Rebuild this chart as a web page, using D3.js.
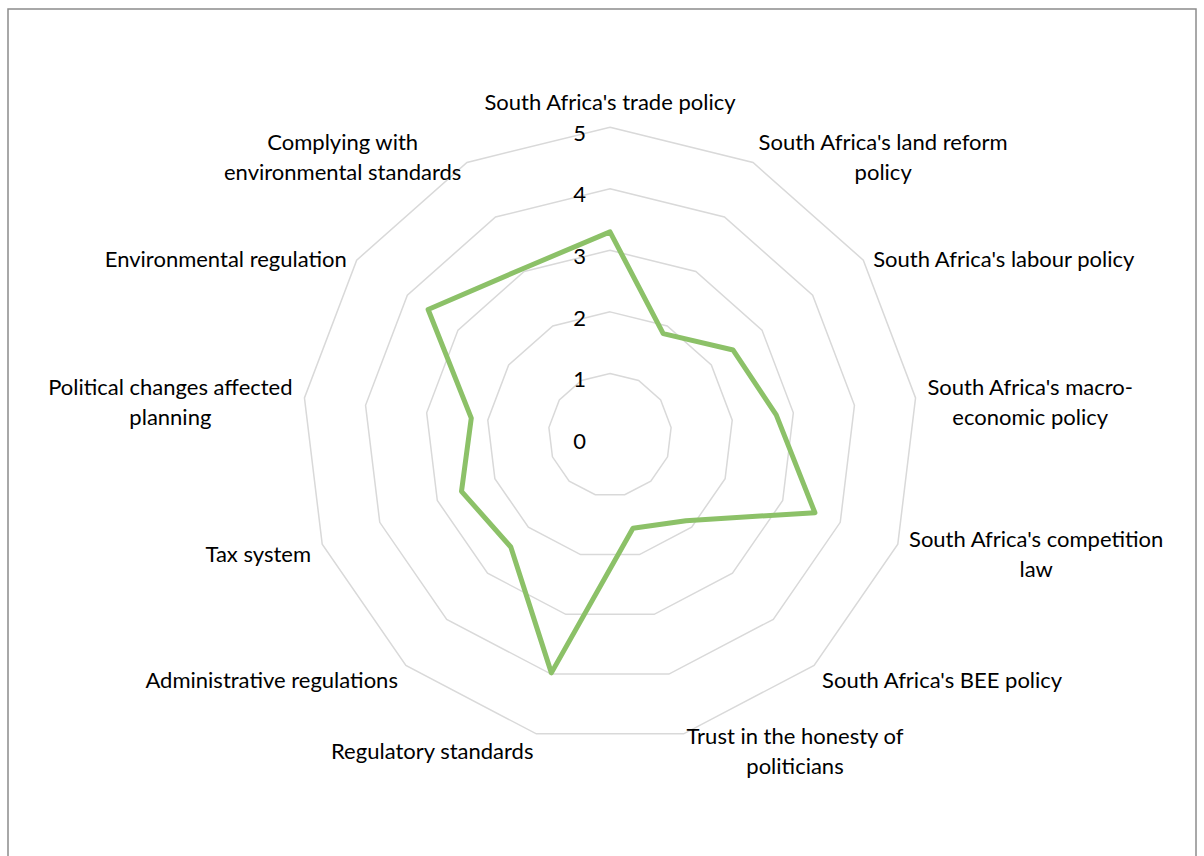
<!DOCTYPE html>
<html>
<head>
<meta charset="utf-8">
<script src="https://cdn.jsdelivr.net/npm/d3@7"></script>
<style>
  html, body { margin: 0; padding: 0; background: #fff; }
  svg { display: block; }
  text { font-family: Lato, "Open Sans", sans-serif; fill: #000; }
</style>
</head>
<body>
<svg id="chart" width="1204" height="856"></svg>
<script>
const categories = [
  "South Africa's trade policy",
  "South Africa's land reform policy",
  "South Africa's labour policy",
  "South Africa's macro-economic policy",
  "South Africa's competition law",
  "South Africa's BEE policy",
  "Trust in the honesty of politicians",
  "Regulatory standards",
  "Administrative regulations",
  "Tax system",
  "Political changes affected planning",
  "Environmental regulation",
  "Complying with environmental standards"
];
const labelLines = [
  ["South Africa's trade policy"],
  ["South Africa's land reform", "policy"],
  ["South Africa's labour policy"],
  ["South Africa's macro-", "economic policy"],
  ["South Africa's competition", "law"],
  ["South Africa's BEE policy"],
  ["Trust in the honesty of", "politicians"],
  ["Regulatory standards"],
  ["Administrative regulations"],
  ["Tax system"],
  ["Political changes affected", "planning"],
  ["Environmental regulation"],
  ["Complying with", "environmental standards"]
];
const values = [3.30, 1.86, 2.43, 2.72, 3.56, 1.86, 1.56, 3.98, 2.43, 2.58, 2.27, 3.59, 3.05];
const tickValues = [0, 1, 2, 3, 4, 5];

const svg = d3.select("#chart");
const cx = 610, cy = 435, R = 307.8;
const fontSize = 22, lineGap = 30;

// outer frame
svg.append("rect")
  .attr("x", 8).attr("y", 9).attr("width", 1188).attr("height", 900)
  .attr("fill", "none").attr("stroke", "#8c8c8c").attr("stroke-width", 1.5);

const r = d3.scaleLinear().domain([0, 5]).range([0, R]);
const angle = d3.scaleLinear().domain([0, categories.length]).range([0, 2 * Math.PI]);

const g = svg.append("g").attr("transform", `translate(${cx},${cy})`);

// grid polygons
const gridLine = d3.lineRadial()
  .angle((d, i) => angle(i))
  .radius(d => r(d))
  .curve(d3.curveLinearClosed);

tickValues.filter(t => t > 0).forEach(t => {
  g.append("path")
    .attr("d", gridLine(categories.map(() => t)))
    .attr("fill", "none")
    .attr("stroke", "#d9d9d9")
    .attr("stroke-width", 1.5);
});

// tick labels
g.selectAll("text.tick")
  .data(tickValues)
  .enter().append("text")
  .attr("class", "tick")
  .attr("x", -24)
  .attr("y", d => -r(d) + 6)
  .attr("dy", "0.35em")
  .attr("text-anchor", "end")
  .attr("font-size", fontSize)
  .text(d => d);

// data line
const dataLine = d3.lineRadial()
  .angle((d, i) => angle(i))
  .radius(d => r(d))
  .curve(d3.curveLinearClosed);

g.append("path")
  .attr("d", dataLine(values))
  .attr("fill", "none")
  .attr("stroke", "#8cc168")
  .attr("stroke-width", 5)
  .attr("stroke-linejoin", "round");

// category labels
labelLines.forEach((lines, i) => {
  const a = angle(i);
  const s = Math.sin(a), c = Math.cos(a);
  const px = (R + 12) * s, py = -(R + 12) * c;
  const t = g.append("text").attr("font-size", fontSize).attr("text-anchor", "middle");
  let blockCenterY;
  if (Math.abs(s) < 0.01) {
    blockCenterY = py - 13 - (lines.length - 1) * lineGap / 2;
  } else {
    blockCenterY = py + 5.5;
  }
  const tspans = t.selectAll("tspan").data(lines).enter().append("tspan")
    .attr("y", (d, k) => blockCenterY + (k - (lines.length - 1) / 2) * lineGap)
    .attr("dy", "0.35em")
    .text(d => d);
  if (Math.abs(s) >= 0.01) {
    const widths = [];
    tspans.each(function() { widths.push(this.getComputedTextLength()); });
    const w = d3.max(widths);
    const blockMid = s > 0 ? px + w / 2 : px - w / 2;
    tspans.attr("x", blockMid);
  } else {
    tspans.attr("x", px);
  }
});
</script>
</body>
</html>
